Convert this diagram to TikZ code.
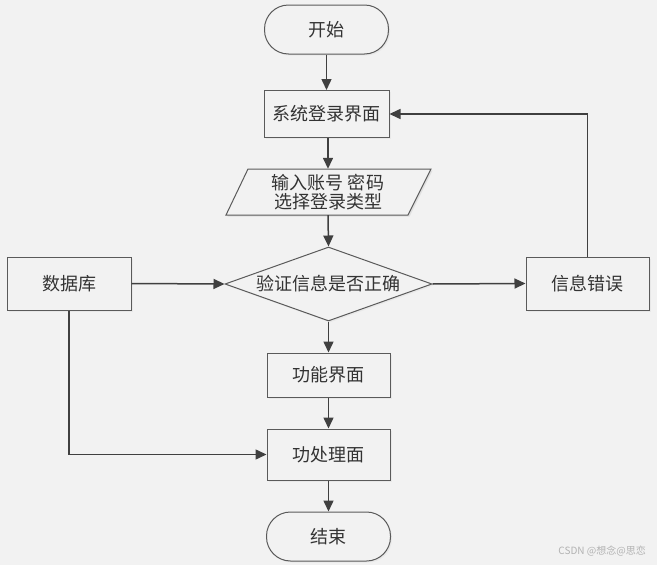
\documentclass[tikz,border=0pt]{standalone}
\usepackage{fontspec}
\newfontfamily\cjk{Noto Sans CJK SC}
\usetikzlibrary{arrows.meta,shapes.geometric,shadows}
\definecolor{bg}{HTML}{F2F2F2}
\definecolor{edge}{HTML}{5A5A5A}
\definecolor{line}{HTML}{404040}
\definecolor{txt}{HTML}{333333}
\begin{document}
\begin{tikzpicture}[x=1pt,y=-1pt,
  font=\cjk\fontsize{18}{21}\selectfont,
  base/.style={draw=edge,line width=1pt,fill=bg,text=txt,inner sep=0pt,
    drop shadow={shadow xshift=1.5pt,shadow yshift=-1.5pt,fill=black!12}},
  boxnode/.style={base,rectangle,minimum width=#1,minimum height=47pt},
  term/.style={base,rectangle,rounded corners=24pt,minimum width=124pt,minimum height=49pt},
  conn/.style={draw=line,line width=1.5pt,-{Triangle[length=11pt,width=10pt]}}]
\fill[bg] (0,0) rectangle (657,565);
\useasboundingbox (0,0) rectangle (657,565);

\node[term] (start) at (326.5,29.5) {开始};
\node[boxnode=125pt] (login) at (326.5,114) {系统登录界面};
% parallelogram
\fill[black!12] (249.5,170.5) -- (432.5,170.5) -- (409.5,216.5) -- (227.5,216.5) -- cycle;
\draw[edge,line width=1pt,fill=bg] (248,169) -- (431,169) -- (408,215) -- (226,215) -- cycle;
\node[inner sep=0pt,minimum width=160pt,minimum height=46pt,text=txt,align=center] (input) at (328,192)
  {输入账号 密码\\[-2pt]选择登录类型};
\node[base,diamond,aspect=2.8,minimum width=207pt,minimum height=74pt,inner sep=0pt] (check) at (328.5,284) {验证信息是否正确};
\node[boxnode=124pt,minimum height=53pt] (db) at (69,283.5) {数据库};
\node[boxnode=123pt,minimum height=53pt] (err) at (587.5,283.5) {信息错误};
\node[boxnode=123pt,minimum height=44pt] (func) at (328.5,375) {功能界面};
\node[boxnode=123pt,minimum height=51pt] (proc) at (328.5,454.5) {功处理面};
\node[term,minimum width=124pt] (end) at (328.5,536.5) {结束};

\draw[conn] (start.south) -- (start.south |- login.north);
\draw[conn] (login.south -| input.north) -- (input.north);
\draw[conn] (input.south) -- (check.north);
\draw[conn] (db.east) -- (check.west);
\draw[conn] (check.east) -- (err.west);
\draw[conn] (err.north) |- (login.east);
\draw[conn] (check.south) -- (check.south |- func.north);
\draw[conn] (func.south) -- (proc.north);
\draw[conn] (db.south) |- (proc.west);
\draw[conn] (proc.south) -- (end.north);

\node[text=black!30,font=\cjk\fontsize{10}{12}\selectfont,anchor=east,inner sep=0pt] (wm) at (646,551) {CSDN @想念@思恋};
\end{tikzpicture}
\end{document}
